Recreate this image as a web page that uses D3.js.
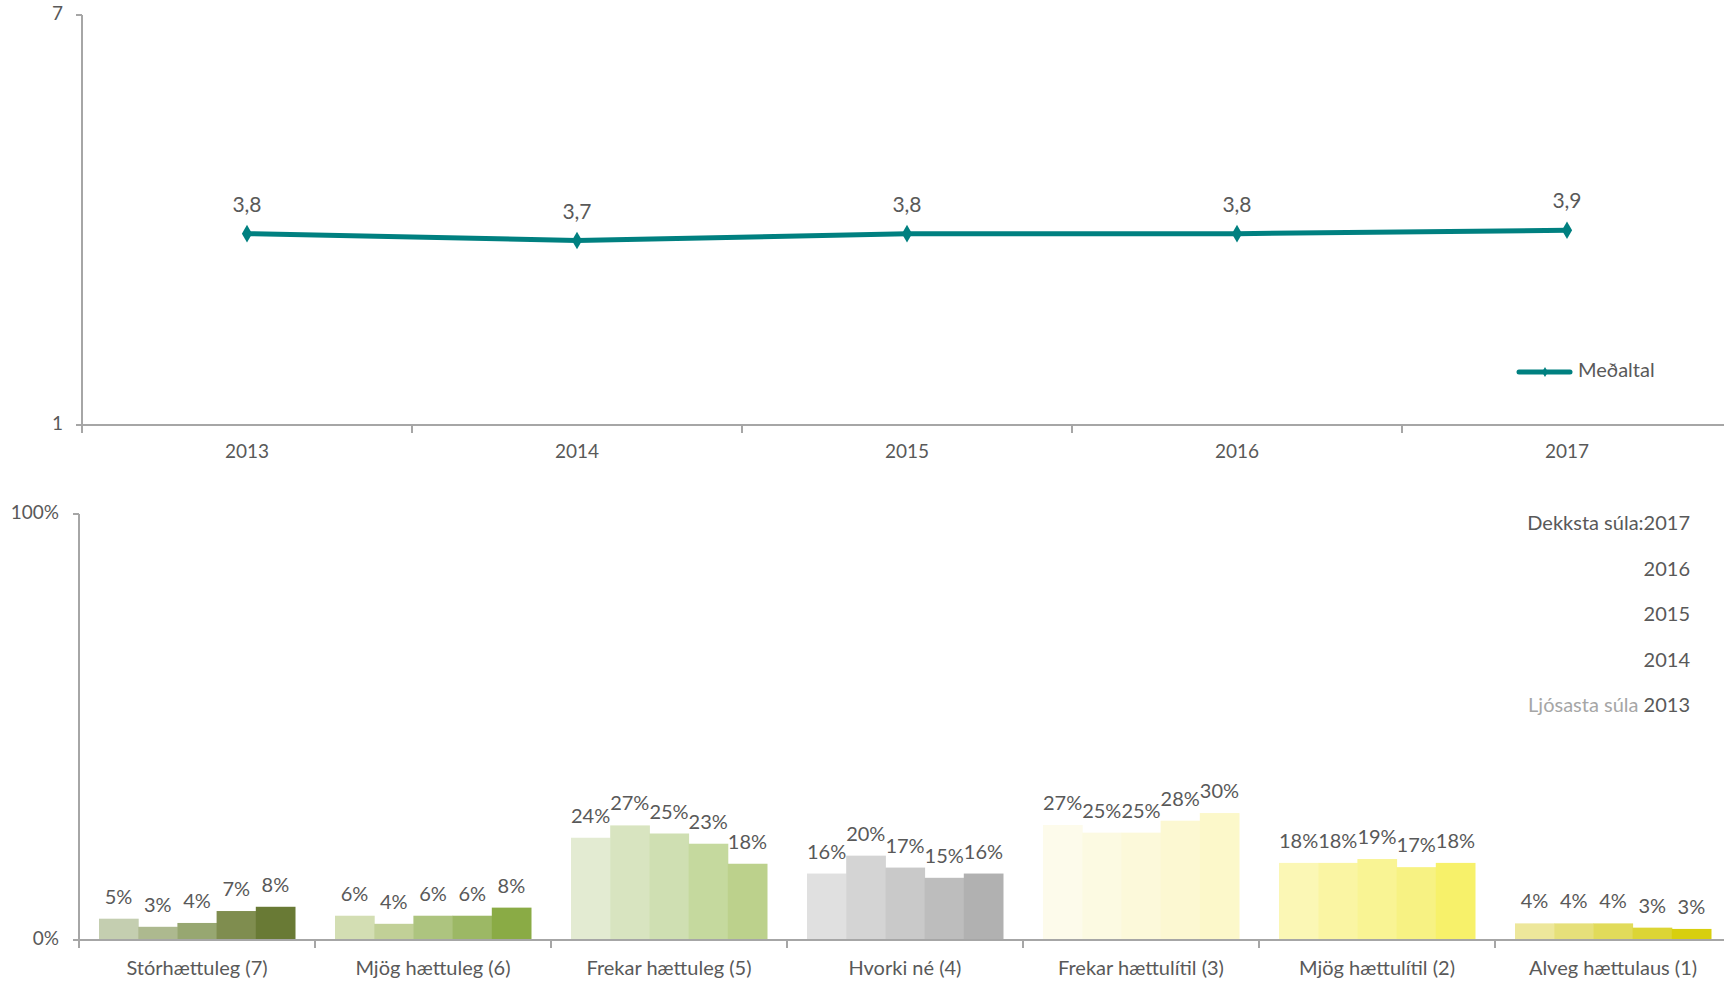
<!DOCTYPE html>
<html>
<head>
<meta charset="utf-8">
<script src="https://cdn.jsdelivr.net/npm/d3@7"></script>
<style>
  body { margin: 0; background: #fff; }
  text { font-family: Lato, "Open Sans", sans-serif; fill: #595959; }
</style>
</head>
<body>
<svg id="chart" width="1724" height="984"></svg>
<script>
// top chart: average per year
const years = ["2013", "2014", "2015", "2016", "2017"];
const meanValues = [3.8, 3.7, 3.8, 3.8, 3.85];

// bottom chart: share per answer, one array per year (%)
const categories = ["Stórhættuleg (7)", "Mjög hættuleg (6)", "Frekar hættuleg (5)", "Hvorki né (4)",
  "Frekar hættulítil (3)", "Mjög hættulítil (2)", "Alveg hættulaus (1)"];
const share2013 = [5.0, 5.7, 24.0, 15.6, 27.0, 18.1, 3.9];
const share2014 = [3.1, 3.8, 26.9, 19.8, 25.2, 18.1, 3.9];
const share2015 = [4.0, 5.7, 25.0, 17.0, 25.2, 19.0, 3.9];
const share2016 = [6.8, 5.7, 22.6, 14.6, 28.0, 17.1, 2.9];
const share2017 = [7.8, 7.6, 17.9, 15.6, 29.8, 18.1, 2.6];
const shares = [share2013, share2014, share2015, share2016, share2017];

// colours per category, lightest (2013) to darkest (2017)
const palette = [
  ["#c4ceb0", "#adb98f", "#97a771", "#7f8d4f", "#697a35"],
  ["#d3deb3", "#c1d097", "#adc47f", "#9cb865", "#8aab45"],
  ["#e3ebd2", "#d8e4c0", "#cfdfb2", "#c5d99e", "#bcd18c"],
  ["#e0e0e0", "#d4d4d4", "#c9c9c9", "#bdbdbd", "#b1b1b1"],
  ["#fdfbeb", "#fcfae2", "#fcf9da", "#fcf8d2", "#fcf8ca"],
  ["#fbf7b5", "#faf5a3", "#f9f494", "#f7f283", "#f7f16a"],
  ["#ede79b", "#e6e07a", "#e1db5a", "#dcd535", "#d8cf0e"]
];

const svg = d3.select("#chart");
const axisColor = "#a6a6a6";
const teal = "#008080";

// ---------- top line chart ----------
const xTop = d3.scaleBand().domain(years).range([82, 1732]).padding(0);
const yTop = d3.scaleLinear().domain([1, 7]).range([425, 15]);

const gTop = svg.append("g");
gTop.append("line")
  .attr("x1", 82).attr("x2", 1724).attr("y1", yTop(1)).attr("y2", yTop(1))
  .attr("stroke", axisColor).attr("stroke-width", 2);
gTop.append("line")
  .attr("x1", 82).attr("x2", 82).attr("y1", yTop(7)).attr("y2", yTop(1))
  .attr("stroke", axisColor).attr("stroke-width", 2);

gTop.selectAll(".ytick")
  .data([1, 7])
  .join("line")
    .attr("x1", 76).attr("x2", 82)
    .attr("y1", d => yTop(d)).attr("y2", d => yTop(d))
    .attr("stroke", axisColor).attr("stroke-width", 2);
gTop.selectAll(".ylab")
  .data([1, 7])
  .join("text")
    .attr("x", 63).attr("y", d => yTop(d))
    .attr("text-anchor", "end").attr("dominant-baseline", "middle")
    .style("font-size", "19px")
    .text(d => d);

gTop.selectAll(".xtick")
  .data(years)
  .join("line")
    .attr("x1", d => xTop(d)).attr("x2", d => xTop(d))
    .attr("y1", yTop(1)).attr("y2", yTop(1) + 8)
    .attr("stroke", axisColor).attr("stroke-width", 2);
gTop.selectAll(".xlab")
  .data(years)
  .join("text")
    .attr("x", d => xTop(d) + xTop.bandwidth() / 2)
    .attr("y", 453)
    .attr("text-anchor", "middle").attr("dominant-baseline", "middle")
    .style("font-size", "19px")
    .text(d => d);

const meanPts = years.map((yr, i) => ({ year: yr, v: meanValues[i] }));
const line = d3.line()
  .x(d => xTop(d.year) + xTop.bandwidth() / 2)
  .y(d => yTop(d.v));

gTop.append("path")
  .datum(meanPts)
  .attr("d", line)
  .attr("fill", "none")
  .attr("stroke", teal)
  .attr("stroke-width", 5)
  .attr("stroke-linejoin", "round");

gTop.selectAll(".pt")
  .data(meanPts)
  .join("path")
    .attr("d", d3.symbol(d3.symbolDiamond, 90))
    .attr("transform", d => `translate(${xTop(d.year) + xTop.bandwidth() / 2},${yTop(d.v)})`)
    .attr("fill", teal);

gTop.selectAll(".vlab")
  .data(meanPts)
  .join("text")
    .attr("x", d => xTop(d.year) + xTop.bandwidth() / 2)
    .attr("y", d => yTop(d.v) - 22)
    .attr("text-anchor", "middle")
    .style("font-size", "21px")
    .text(d => d3.format(".1f")(d.v).replace(".", ","));

// legend
gTop.append("line")
  .attr("x1", 1519).attr("x2", 1570).attr("y1", 372).attr("y2", 372)
  .attr("stroke", teal).attr("stroke-width", 5).attr("stroke-linecap", "round");
gTop.append("path")
  .attr("d", d3.symbol(d3.symbolDiamond, 30))
  .attr("transform", "translate(1545,372)")
  .attr("fill", teal);
gTop.append("text")
  .attr("x", 1578).attr("y", 372)
  .attr("dominant-baseline", "middle")
  .style("font-size", "20px")
  .text("Meðaltal");

// ---------- bottom bar chart ----------
const x0 = d3.scaleBand().domain(categories).range([79, 1731]).padding(0);
const x1 = d3.scaleBand().domain(years).range([20, x0.bandwidth() - 20]).padding(0);
const yBot = d3.scaleLinear().domain([0, 100]).range([940, 514]);

const gBot = svg.append("g");

const barData = [];
categories.forEach((c, ci) => {
  years.forEach((yr, yi) => {
    barData.push({ cat: c, ci: ci, year: yr, yi: yi, v: shares[yi][ci] });
  });
});

gBot.selectAll(".bar")
  .data(barData)
  .join("rect")
    .attr("x", d => x0(d.cat) + x1(d.year))
    .attr("y", d => yBot(d.v))
    .attr("width", x1.bandwidth() + 0.5)
    .attr("height", d => yBot(0) - yBot(d.v))
    .attr("fill", d => palette[d.ci][d.yi]);

gBot.selectAll(".blab")
  .data(barData)
  .join("text")
    .attr("x", d => x0(d.cat) + x1(d.year) + x1.bandwidth() / 2)
    .attr("y", d => yBot(d.v) - 15)
    .attr("text-anchor", "middle")
    .style("font-size", "20px")
    .text(d => Math.round(d.v) + "%");

gBot.append("line")
  .attr("x1", 79).attr("x2", 1724).attr("y1", yBot(0)).attr("y2", yBot(0))
  .attr("stroke", axisColor).attr("stroke-width", 2);
gBot.append("line")
  .attr("x1", 79).attr("x2", 79).attr("y1", yBot(100)).attr("y2", yBot(0))
  .attr("stroke", axisColor).attr("stroke-width", 2);

gBot.selectAll(".ytick")
  .data([0, 100])
  .join("line")
    .attr("x1", 73).attr("x2", 79)
    .attr("y1", d => yBot(d)).attr("y2", d => yBot(d))
    .attr("stroke", axisColor).attr("stroke-width", 2);
gBot.selectAll(".ylab")
  .data([0, 100])
  .join("text")
    .attr("x", 59).attr("y", d => yBot(d))
    .attr("text-anchor", "end").attr("dominant-baseline", "middle")
    .style("font-size", "19px")
    .text(d => d + "%");

gBot.selectAll(".xtick")
  .data(categories)
  .join("line")
    .attr("x1", d => x0(d)).attr("x2", d => x0(d))
    .attr("y1", yBot(0)).attr("y2", yBot(0) + 8)
    .attr("stroke", axisColor).attr("stroke-width", 2);
gBot.selectAll(".xlab")
  .data(categories)
  .join("text")
    .attr("x", d => x0(d) + x0.bandwidth() / 2)
    .attr("y", 970)
    .attr("text-anchor", "middle").attr("dominant-baseline", "middle")
    .style("font-size", "20px")
    .text(d => d);

// year legend (darkest on top)
const legendYears = years.slice().reverse();
const legText = gBot.selectAll(".leg")
  .data(legendYears)
  .join("text")
    .attr("x", 1690)
    .attr("y", (d, i) => 525 + i * 45.5)
    .attr("text-anchor", "end").attr("dominant-baseline", "middle")
    .style("font-size", "20px");
legText.append("tspan")
  .style("fill", (d, i) => i === legendYears.length - 1 ? "#a6a6a6" : "#595959")
  .text((d, i) => i === 0 ? "Dekksta súla:" : (i === legendYears.length - 1 ? "Ljósasta súla " : ""));
legText.append("tspan").text(d => d);
</script>
</body>
</html>
